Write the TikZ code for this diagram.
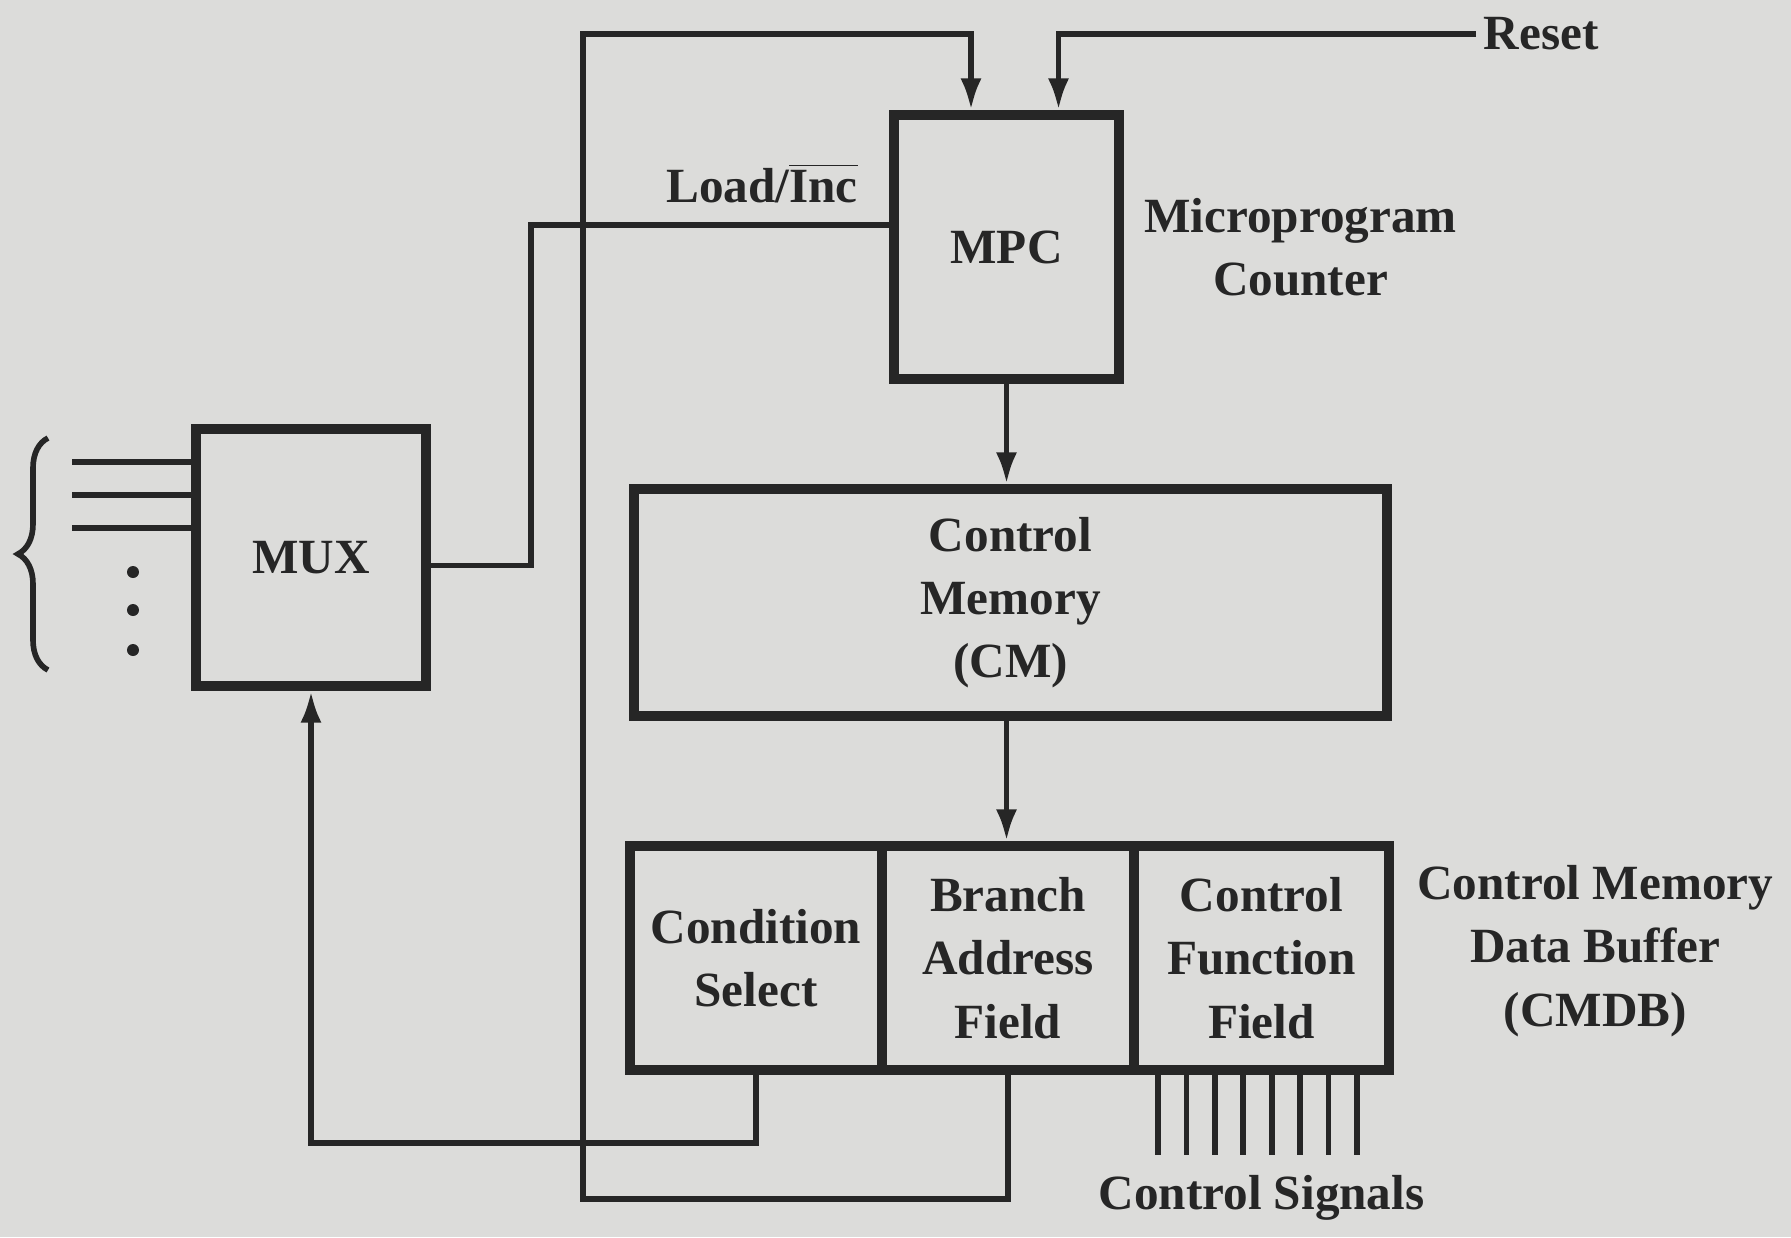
\documentclass[tikz,border=0pt]{standalone}
\usepackage{fontspec}
\setmainfont{Liberation Serif}
\usetikzlibrary{arrows.meta,positioning,decorations.pathreplacing}
\definecolor{paper}{RGB}{220,220,218}
\definecolor{ink}{RGB}{38,38,38}

\begin{document}
\begin{tikzpicture}[every node/.style={font=\fontsize{14}{18}\selectfont\bfseries, text=ink, align=center}]
\tikzset{blk/.style={draw=ink, line width=2.8pt, inner sep=0pt}}
\tikzset{wire/.style={draw=ink, line width=1.6pt}}
\tikzset{feed/.style={wire, -{Latex[length=9pt,width=6pt]}}}
\useasboundingbox (0,0) rectangle (17.91,-12.37);
\fill[paper] (0,0) rectangle (17.91,-12.37);
% blocks
\node[blk, minimum width=2.30cm, minimum height=2.57cm] (mux) at (3.11,-5.575) {MUX};
\node[blk, minimum width=2.25cm, minimum height=2.64cm] (mpc) at (10.065,-2.47) {MPC};
\node[blk, minimum width=7.53cm, minimum height=2.27cm] (cm) at (10.105,-6.025) {Control\\Memory\\(CM)};
\node[blk, minimum width=2.52cm, minimum height=2.24cm] (cs) at (7.56,-9.58) {Condition\\Select};
\node[blk, minimum width=2.52cm, minimum height=2.24cm] (ba) at (10.08,-9.58) {Branch\\Address\\Field};
\node[blk, minimum width=2.55cm, minimum height=2.24cm] (cf) at (12.615,-9.58) {Control\\Function\\Field};
% labels
\node[right=0.08cm of mpc] (mpclbl) {Microprogram\\Counter};
\node[right=0.11cm of cf, yshift=0.07cm] (cmdblbl) {Control Memory\\Data Buffer\\(CMDB)};
\node[below=0.88cm of cf] (sigs) {Control Signals};
\node (ldlbl) at (7.62,-1.83) {Load/$\overline{\mbox{Inc}}$};
\node[anchor=west, inner sep=2pt] (reset) at (14.76,-0.34) {Reset};
% routing points
\coordinate (loopbot) at (5.83,-11.99);
\coordinate (looptop) at (5.83,-0.34);
\coordinate (bend) at (5.31,-4.0);
% connectors
\draw[feed] (ba.south) |- (loopbot) -- (looptop) -| ([xshift=-0.355cm]mpc.north);
\draw[feed] (reset.west) -| ([xshift=0.52cm]mpc.north);
\draw[wire] ([yshift=0.22cm]mpc.west) -| (bend) |- ([yshift=-0.08cm]mux.east);
\draw[feed] (cs.south) -- ++(0,-0.68) -| (mux.south);
\draw[feed] (mpc.south) -- (mpc.south |- cm.north);
\draw[feed] (mpc.south |- cm.south) -- (mpc.south |- ba.north);
\foreach \k in {0,...,7}
  \draw[wire] ([xshift={0.29cm+\k*0.284cm}]cf.south west) -- ++(0,-0.80);
% mux inputs
\foreach \d in {0.955,0.625,0.295}
  \draw[wire] ([yshift=\d cm]mux.west) -- ++(-1.19,0);
\foreach \y in {-5.72,-6.10,-6.50}
  \fill[ink] (1.33,\y) circle (0.06);
\draw[wire, decorate, decoration={brace, amplitude=0.3cm}] (0.48,-6.70) -- (0.48,-4.38);
\end{tikzpicture}
\end{document}
